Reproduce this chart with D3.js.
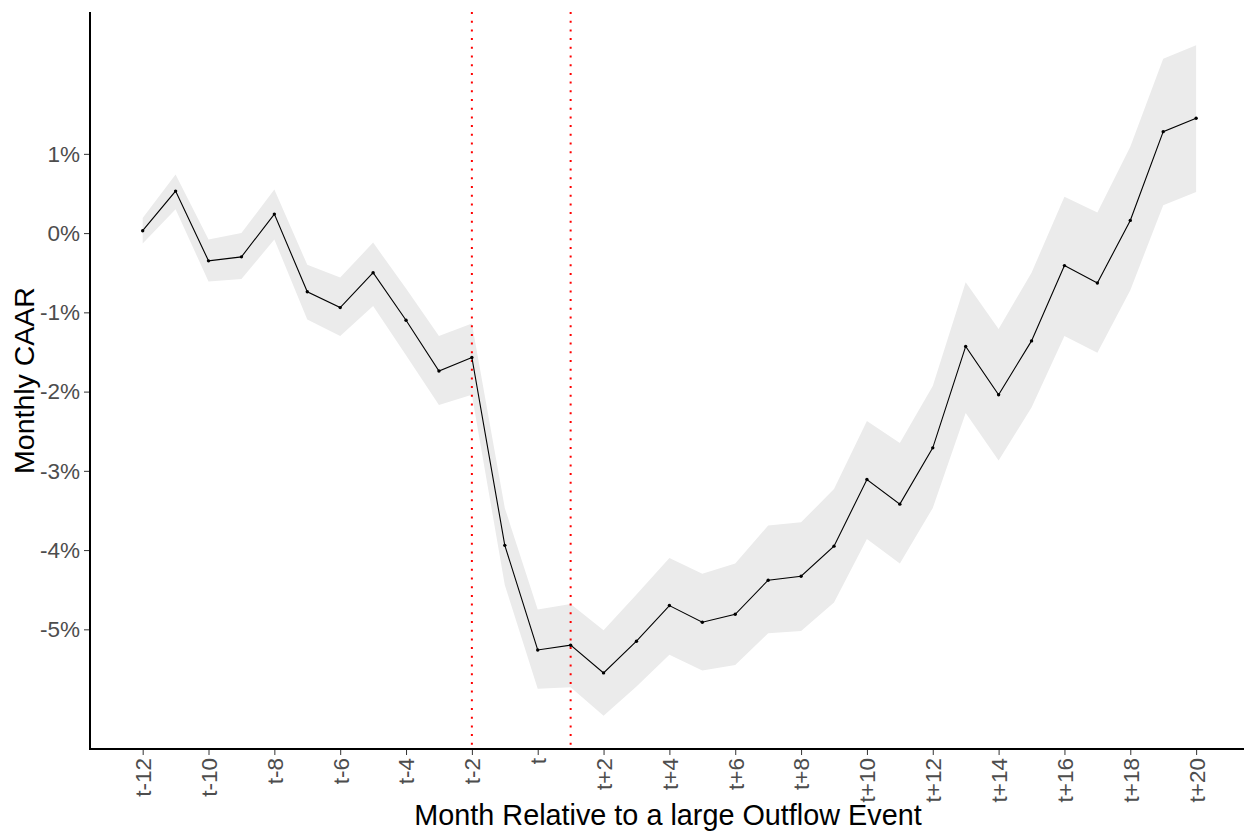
<!DOCTYPE html>
<html lang="en">
<head>
    <meta charset="UTF-8">
    <title>Monthly CAAR</title>
    <script src="https://d3js.org/d3.v7.min.js"></script>
    <style>
        body { margin: 0; background: #fff; }
    </style>
</head>
<body>
    <div id="chart"></div>

    <script>
        // data (values in %)
        const months = [-12,-11,-10,-9,-8,-7,-6,-5,-4,-3,-2,-1,0,1,2,3,4,5,6,7,8,9,10,11,12,13,14,15,16,17,18,19,20];
        const caar  = [0.03,0.53,-0.35,-0.30,0.24,-0.74,-0.94,-0.50,-1.10,-1.74,-1.57,-3.94,-5.26,-5.20,-5.55,-5.15,-4.70,-4.91,-4.81,-4.38,-4.33,-3.95,-3.11,-3.42,-2.71,-1.43,-2.04,-1.36,-0.41,-0.63,0.16,1.28,1.45];
        const upper = [0.19,0.74,-0.08,0.00,0.55,-0.40,-0.56,-0.12,-0.70,-1.30,-1.14,-3.47,-4.75,-4.68,-5.01,-4.56,-4.10,-4.30,-4.17,-3.69,-3.65,-3.23,-2.37,-2.65,-1.93,-0.62,-1.21,-0.50,0.46,0.26,1.09,2.20,2.37];
        const lower = [-0.13,0.30,-0.61,-0.58,-0.08,-1.09,-1.30,-0.92,-1.54,-2.17,-2.04,-4.44,-5.75,-5.73,-6.09,-5.72,-5.32,-5.52,-5.45,-5.05,-5.02,-4.66,-3.86,-4.17,-3.47,-2.27,-2.87,-2.20,-1.30,-1.51,-0.72,0.35,0.52];
        const eventLines = [-2, 1];

        const xTicks = [-12,-10,-8,-6,-4,-2,0,2,4,6,8,10,12,14,16,18,20];
        const yTicks = [-5,-4,-3,-2,-1,0,1];

        const data = months.map((m, i) => ({m: m, v: caar[i], hi: upper[i], lo: lower[i]}));

        const W = 1244, H = 833;
        const padLeft = 90, padTop = 12, axisY = 749;

        const svg = d3.select("#chart")
            .append("svg")
            .attr("width", W)
            .attr("height", H)
            .style("font-family", "'Liberation Sans', Arial, sans-serif");

        const x = d3.scaleLinear()
            .domain([-13.6, 21.6])
            .range([padLeft, 1248.8]);

        const y = d3.scaleLinear()
            .domain([-6.51, 2.79])
            .range([axisY, padTop]);

        // confidence band
        svg.append("path")
            .datum(data)
            .attr("fill", "#ebebeb")
            .attr("d", d3.area()
                .x(d => x(d.m))
                .y0(d => y(d.lo))
                .y1(d => y(d.hi)));

        // event window lines
        svg.selectAll(".vline")
            .data(eventLines)
            .join("line")
            .attr("x1", d => x(d)).attr("x2", d => x(d))
            .attr("y1", padTop).attr("y2", axisY)
            .attr("stroke", "#ff0000")
            .attr("stroke-width", 2)
            .attr("stroke-dasharray", "2,6.7");

        // CAAR line + points
        svg.append("path")
            .datum(data)
            .attr("fill", "none")
            .attr("stroke", "#000")
            .attr("stroke-width", 1.1)
            .attr("d", d3.line().x(d => x(d.m)).y(d => y(d.v)));

        svg.selectAll(".pt")
            .data(data)
            .join("circle")
            .attr("cx", d => x(d.m))
            .attr("cy", d => y(d.v))
            .attr("r", 1.7)
            .attr("fill", "#000");

        // axes
        const yAxis = svg.append("g")
            .attr("transform", `translate(${padLeft},0)`)
            .call(d3.axisLeft(y).tickValues(yTicks).tickSize(6).tickPadding(4).tickFormat(d => d + "%"));
        yAxis.select(".domain").remove();
        yAxis.selectAll(".tick line").attr("stroke", "#333").attr("stroke-width", 1);
        yAxis.selectAll("text").attr("fill", "#4d4d4d").style("font-size", "22.5px");

        const xAxis = svg.append("g")
            .attr("transform", `translate(0,${axisY})`)
            .call(d3.axisBottom(x).tickValues(xTicks).tickSize(6).tickPadding(4)
                .tickFormat(d => d === 0 ? "t" : (d > 0 ? "t+" + d : "t" + d)));
        xAxis.select(".domain").remove();
        xAxis.selectAll(".tick line").attr("stroke", "#333").attr("stroke-width", 1);
        xAxis.selectAll("text")
            .attr("fill", "#4d4d4d")
            .style("font-size", "22.5px")
            .attr("transform", "rotate(-90)")
            .attr("x", -9)
            .attr("y", 0)
            .attr("dy", "0.35em")
            .style("text-anchor", "end");

        // axis lines
        svg.append("line")
            .attr("x1", padLeft).attr("x2", padLeft)
            .attr("y1", padTop).attr("y2", axisY + 1)
            .attr("stroke", "#000").attr("stroke-width", 2);
        svg.append("line")
            .attr("x1", padLeft - 1).attr("x2", W)
            .attr("y1", axisY).attr("y2", axisY)
            .attr("stroke", "#000").attr("stroke-width", 2);

        // titles
        svg.append("text")
            .attr("x", (padLeft + W) / 2 + 1)
            .attr("y", 825)
            .attr("text-anchor", "middle")
            .style("font-size", "28.8px")
            .attr("fill", "#000")
            .text("Month Relative to a large Outflow Event");

        svg.append("text")
            .attr("transform", `translate(34,${(padTop + axisY) / 2}) rotate(-90)`)
            .attr("text-anchor", "middle")
            .style("font-size", "28.5px")
            .attr("fill", "#000")
            .text("Monthly CAAR");
    </script>
</body>
</html>
